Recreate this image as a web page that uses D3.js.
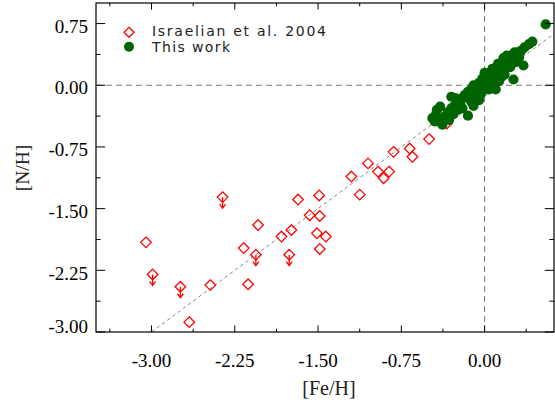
<!DOCTYPE html>
<html>
<head>
<meta charset="utf-8">
<script src="https://cdn.jsdelivr.net/npm/d3@7"></script>
<style>
  html, body { margin: 0; padding: 0; background: #fff; }
  svg { display: block; }
</style>
</head>
<body>
<svg id="chart" width="555" height="403"></svg>
<script>
// ---------------- DATA ----------------
const xTicks = [-3.00, -2.25, -1.50, -0.75, 0.00];
const yTicks = [0.75, 0.00, -0.75, -1.50, -2.25, -3.00];
const xMinorTicks = [-3.375, -2.625, -1.875, -1.125, -0.375, 0.375];
const yMinorTicks = [0.375, -0.375, -1.125, -1.875, -2.625];
const legendLabels = ["Israelian et al. 2004", "This work"];
const xTitle = "[Fe/H]";
const yTitle = "[N/H]";

// Israelian et al. 2004 : [Fe/H], [N/H], upper limit flag
const israelianFe = [-3.05, -2.99, -2.74, -2.66, -2.47, -2.36, -2.17, -2.13, -2.06, -2.04,
                     -1.83, -1.74, -1.76, -1.68, -1.575, -1.49, -1.485, -1.51, -1.43, -1.485,
                     -1.20, -1.125, -1.05, -0.96, -0.86, -0.91, -0.82, -0.675, -0.65, -0.50, -0.34];
const israelianN  = [-1.91, -2.30, -2.45, -2.88, -2.43, -1.36, -1.98, -2.42, -2.06, -1.70,
                     -1.84, -1.76, -2.06, -1.39, -1.58, -1.34, -1.59, -1.80, -1.84, -1.99,
                     -1.11, -1.33, -0.95, -1.05, -1.05, -1.13, -0.81, -0.77, -0.87, -0.655, -0.465];
const israelianUL = [0, 1, 1, 0, 0, 1, 0, 0, 1, 0,
                     0, 0, 1, 0, 0, 0, 0, 0, 0, 0,
                     0, 0, 0, 0, 0, 0, 0, 0, 0, 0, 0];

// This work : [Fe/H], [N/H]
const thisWorkFe = [0.55, 0.43, 0.40, 0.36, 0.33, 0.30, 0.27, 0.25, 0.22, 0.20,
                    0.17, 0.35, 0.26, 0.28, 0.24, 0.19, 0.15, 0.13, 0.10, 0.08,
                    0.11, 0.05, 0.03, 0.00, 0.02, 0.05, 0.00, -0.02, -0.05, -0.08,
                    -0.03, -0.10, -0.12, -0.07, -0.15, -0.18, -0.12, -0.20, -0.22, -0.25,
                    -0.27, -0.24, -0.30, -0.28, -0.15, -0.33, -0.36, -0.40, -0.43, -0.47,
                    -0.45, -0.40, -0.38, -0.32, -0.20, -0.05, 0.07, 0.12, 0.20, 0.04,
                    0.15, 0.31, 0.23, 0.09, -0.01, -0.14, -0.26, -0.44, 0.17, 0.06,
                    0.13, 0.10, -0.10, -0.30, 0.18];
const thisWorkN  = [0.74, 0.53, 0.50, 0.46, 0.42, 0.40, 0.40, 0.37, 0.34, 0.30,
                    0.27, 0.24, 0.07, 0.28, 0.30, 0.22, 0.20, 0.17, 0.14, 0.10,
                    0.04, 0.08, 0.13, 0.15, 0.05, -0.02, 0.00, 0.08, 0.03, -0.02,
                    -0.10, 0.00, -0.05, -0.13, -0.08, -0.12, -0.20, -0.16, -0.22, -0.20,
                    -0.25, -0.30, -0.28, -0.35, -0.37, -0.33, -0.38, -0.26, -0.30, -0.40,
                    -0.44, -0.45, -0.48, -0.42, -0.28, -0.18, 0.20, 0.26, 0.36, -0.05,
                    0.10, 0.34, 0.22, 0.02, -0.06, -0.16, -0.16, -0.36, 0.33, 0.16,
                    0.05, -0.05, -0.25, -0.14, 0.13];

// 1:1 reference line end points
const oneToOne = [-3.0, 0.625];

// ---------------- LAYOUT ----------------
const svg = d3.select("#chart");
const L = 96, R = 554, T = 3, B = 332;
const x = d3.scaleLinear().domain([-3.5, 0.625]).range([L, R]);
const y = d3.scaleLinear().domain([-3.0, 1.0]).range([B, T]);

const serif = "'Liberation Serif', 'Times New Roman', serif";
const sans = "'DejaVu Sans', 'Liberation Sans', Arial, sans-serif";

const plot = svg.append("g");
svg.append("clipPath").attr("id", "clip")
  .append("rect").attr("x", L).attr("y", T).attr("width", R - L).attr("height", B - T);

const lines = plot.append("g").attr("clip-path", "url(#clip)");
lines.append("line")
  .attr("x1", x(-3.5)).attr("x2", x(0.625)).attr("y1", y(0)).attr("y2", y(0))
  .attr("stroke", "#777").attr("stroke-width", 1).attr("stroke-dasharray", "6,4");
lines.append("line")
  .attr("x1", x(0)).attr("x2", x(0)).attr("y1", y(-3)).attr("y2", y(1))
  .attr("stroke", "#777").attr("stroke-width", 1).attr("stroke-dasharray", "6,4");
lines.append("line")
  .attr("x1", x(oneToOne[0])).attr("y1", y(oneToOne[0]))
  .attr("x2", x(oneToOne[1])).attr("y2", y(oneToOne[1]))
  .attr("stroke", "#888").attr("stroke-width", 1).attr("stroke-dasharray", "3.5,3");

// Israelian diamonds
const israelian = israelianFe.map((v, i) => ({fe: v, n: israelianN[i], ul: israelianUL[i]}));
const ds = 5.3;
const gI = plot.append("g");
gI.selectAll("path.d").data(israelian).enter().append("path")
  .attr("class", "d")
  .attr("d", d => {
    const cx = x(d.fe), cy = y(d.n);
    return `M${cx},${cy - ds}L${cx + ds},${cy}L${cx},${cy + ds}L${cx - ds},${cy}Z`;
  })
  .attr("fill", "none").attr("stroke", "#ff0000").attr("stroke-width", 1.3);
gI.selectAll("path.a").data(israelian.filter(d => d.ul)).enter().append("path")
  .attr("class", "a")
  .attr("d", d => {
    const cx = x(d.fe), cy = y(d.n);
    return `M${cx},${cy}L${cx},${cy + 11}M${cx - 3},${cy + 7}L${cx},${cy + 11}L${cx + 3},${cy + 7}`;
  })
  .attr("fill", "none").attr("stroke", "#ff0000").attr("stroke-width", 1.3);

// This work circles
const thisWork = thisWorkFe.map((v, i) => ({fe: v, n: thisWorkN[i]}));
plot.append("g").selectAll("circle").data(thisWork).enter().append("circle")
  .attr("cx", d => x(d.fe)).attr("cy", d => y(d.n)).attr("r", 5.1)
  .attr("fill", "#006400");

// ---------------- AXES ----------------
const ax = svg.append("g");
const majX = 6.6, minX = 3.3, majY = 9.2, minY = 4.6;
function tickLines(vals, len, horizontal) {
  vals.forEach(v => {
    if (horizontal) {
      ax.append("line").attr("x1", x(v)).attr("x2", x(v)).attr("y1", B).attr("y2", B - len).attr("stroke", "#000");
      ax.append("line").attr("x1", x(v)).attr("x2", x(v)).attr("y1", T).attr("y2", T + len).attr("stroke", "#000");
    } else {
      ax.append("line").attr("y1", y(v)).attr("y2", y(v)).attr("x1", L).attr("x2", L + len).attr("stroke", "#000");
      ax.append("line").attr("y1", y(v)).attr("y2", y(v)).attr("x1", R).attr("x2", R - len).attr("stroke", "#000");
    }
  });
}
tickLines(xTicks, majX, true);
tickLines(xMinorTicks, minX, true);
tickLines(yTicks, majY, false);
tickLines(yMinorTicks, minY, false);

ax.append("rect").attr("x", L).attr("y", T).attr("width", R - L).attr("height", B - T)
  .attr("fill", "none").attr("stroke", "#000").attr("stroke-width", 1.2);

const fmt = d3.format(".2f");
ax.selectAll("text.xt").data(xTicks).enter().append("text")
  .attr("class", "xt").attr("x", d => x(d)).attr("y", 366.5)
  .attr("text-anchor", "middle").attr("font-family", serif).attr("font-size", 19)
  .attr("fill", "#000").text(d => fmt(d).replace("\u2212", "-"));
ax.selectAll("text.yt").data(yTicks).enter().append("text")
  .attr("class", "yt").attr("x", 88).attr("y", d => Math.min(y(d) + 9.2, B + 1))
  .attr("text-anchor", "end").attr("font-family", serif).attr("font-size", 19)
  .attr("fill", "#000").text(d => fmt(d).replace("\u2212", "-"));

svg.append("text").attr("x", 329).attr("y", 394.5).attr("text-anchor", "middle")
  .attr("font-family", serif).attr("font-size", 20).attr("fill", "#222").text(xTitle);
svg.append("text").attr("transform", "translate(28.5,168) rotate(-90)").attr("text-anchor", "middle")
  .attr("font-family", serif).attr("font-size", 19.5).attr("fill", "#222").text(yTitle);

// ---------------- LEGEND ----------------
const lg = svg.append("g");
const lx = 129, ly1 = 32.3, ly2 = 46.7;
lg.append("path")
  .attr("d", `M${lx},${ly1 - 5}L${lx + 5},${ly1}L${lx},${ly1 + 5}L${lx - 5},${ly1}Z`)
  .attr("fill", "none").attr("stroke", "#ff0000").attr("stroke-width", 1.3);
lg.append("circle").attr("cx", lx).attr("cy", ly2).attr("r", 5).attr("fill", "#006400");
lg.append("text").attr("x", 152).attr("y", 35.5).attr("font-family", sans).attr("font-size", 14)
  .attr("fill", "#222").attr("textLength", 174).attr("lengthAdjust", "spacing").text(legendLabels[0]);
lg.append("text").attr("x", 152).attr("y", 52).attr("font-family", sans).attr("font-size", 14)
  .attr("fill", "#222").attr("textLength", 78).attr("lengthAdjust", "spacing").text(legendLabels[1]);
</script>
</body>
</html>
